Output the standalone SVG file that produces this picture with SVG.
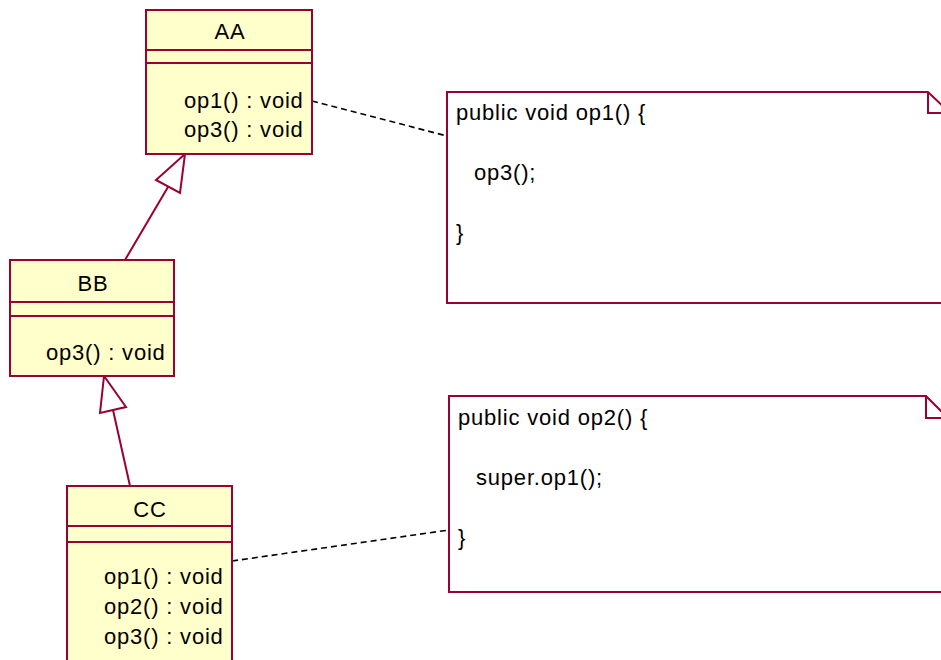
<svg xmlns="http://www.w3.org/2000/svg" width="941" height="660" viewBox="0 0 941 660">
<style>
.box{fill:#FFFFCC;stroke:#990033;stroke-width:2}
.note{fill:#FFFFFF;stroke:#990033;stroke-width:2}
.ln{stroke:#990033;stroke-width:2;fill:none}
.dash{stroke:#000;stroke-width:1.6;stroke-dasharray:6,4;fill:none}
.tri{fill:#FFFFFF;stroke:#990033;stroke-width:2}
text{font-family:"Liberation Sans",Arial,sans-serif;font-size:22px;fill:#000;letter-spacing:0.8px}
.c{text-anchor:middle}
</style>
<rect width="941" height="660" fill="#FFFFFF"/>
<g id="connectors">
<line class="ln" x1="125" y1="260" x2="168" y2="187"/>
<polygon class="tri" points="185,154 156,180 180,193"/>
<line class="ln" x1="130" y1="486" x2="113" y2="410"/>
<polygon class="tri" points="104,376 100,413 126,407"/>
<line class="dash" x1="312" y1="101" x2="447" y2="136"/>
<line class="dash" x1="232" y1="561" x2="449" y2="530"/>
</g>
<g id="AA">
<rect class="box" x="146" y="10" width="166" height="144"/>
<line class="ln" x1="146" y1="50" x2="312" y2="50"/>
<line class="ln" x1="146" y1="63" x2="312" y2="63"/>
<text class="c" x="230" y="39">AA</text>
<text x="184" y="108">op1() : void</text>
<text x="184" y="137">op3() : void</text>
</g>
<g id="BB">
<rect class="box" x="10" y="260" width="164" height="116"/>
<line class="ln" x1="10" y1="302" x2="174" y2="302"/>
<line class="ln" x1="10" y1="316" x2="174" y2="316"/>
<text class="c" x="93" y="291">BB</text>
<text x="46" y="360">op3() : void</text>
</g>
<g id="CC">
<rect class="box" x="67" y="486" width="165" height="190"/>
<line class="ln" x1="67" y1="526" x2="232" y2="526"/>
<line class="ln" x1="67" y1="542" x2="232" y2="542"/>
<text class="c" x="150" y="517">CC</text>
<text x="104" y="584">op1() : void</text>
<text x="104" y="614">op2() : void</text>
<text x="104" y="644">op3() : void</text>
</g>
<g id="note1">
<path class="note" d="M447,92 L928,92 L950,113 L950,303 L447,303 Z"/>
<path class="ln" d="M928,92 L928,113 L950,113"/>
<text x="456" y="120">public void op1() {</text>
<text x="474" y="180">op3();</text>
<text x="456" y="240">}</text>
</g>
<g id="note2">
<path class="note" d="M449,396 L926,396 L948,418 L948,592 L449,592 Z"/>
<path class="ln" d="M926,396 L926,418 L948,418"/>
<text x="458" y="425">public void op2() {</text>
<text x="476" y="485">super.op1();</text>
<text x="458" y="545">}</text>
</g>
</svg>
